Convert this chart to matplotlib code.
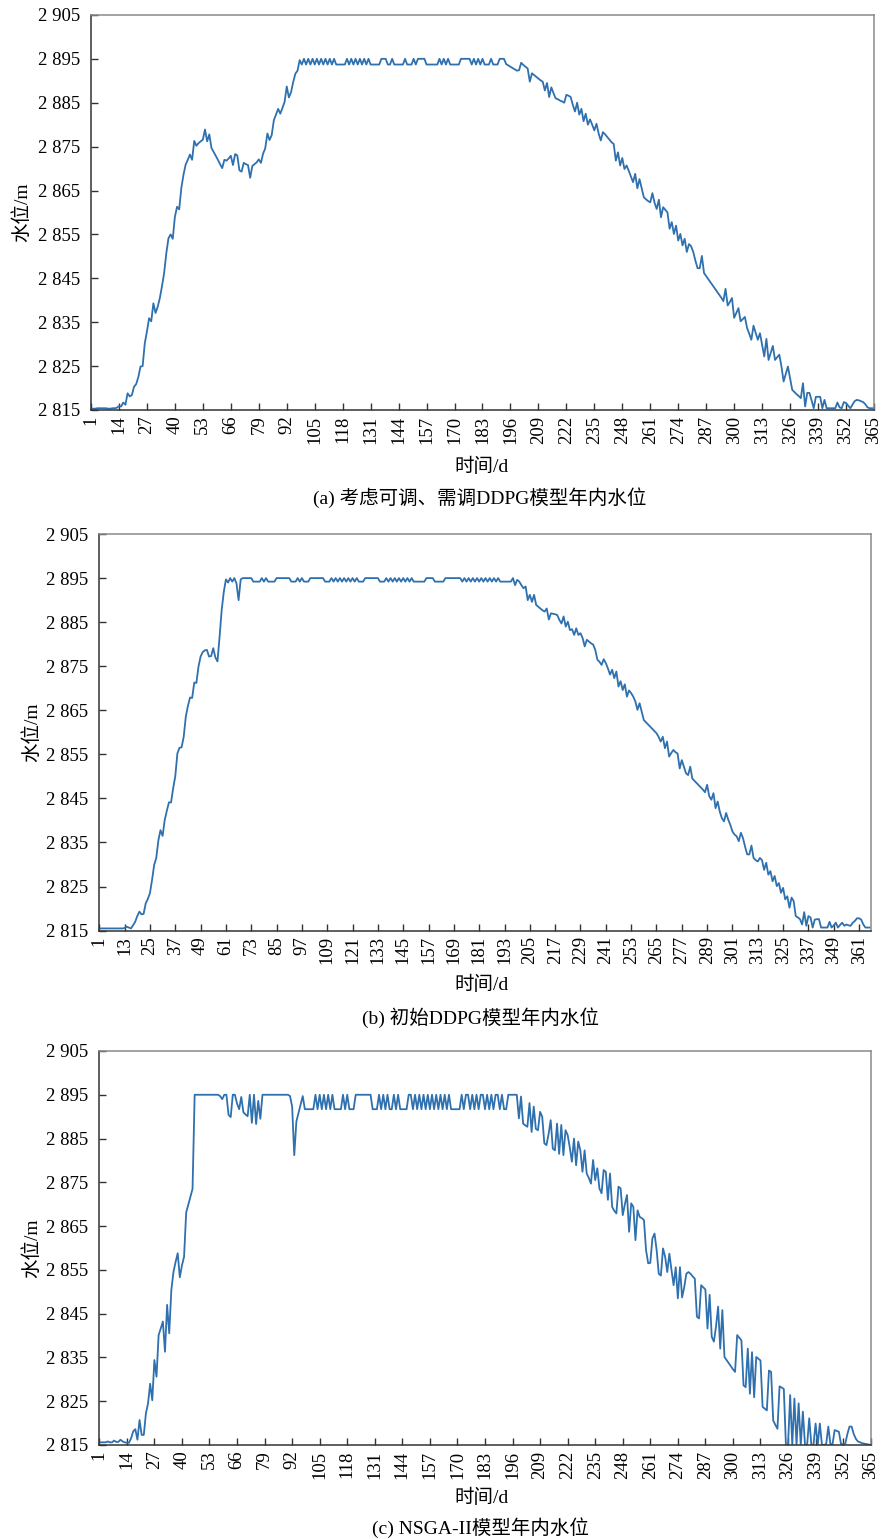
import matplotlib
matplotlib.use("Agg")
import matplotlib.pyplot as plt

# water level (m), one value per day
level_a = [
    2815.3, 2815.3, 2815.3, 2815.4, 2815.4, 2815.4, 2815.4, 2815.4, 2815.3, 2815.3,
    2815.4, 2815.4, 2815.5, 2815.9, 2815.8, 2816.7, 2816.2, 2818.8, 2818.1, 2818.4,
    2820.3, 2820.9, 2822.5, 2824.9, 2825.0, 2830.2, 2832.9, 2835.9, 2835.2, 2839.3,
    2837.1, 2838.5, 2840.5, 2843.2, 2846.2, 2850.7, 2854.1, 2855.0, 2854.0, 2859.0,
    2861.3, 2860.7, 2865.6, 2868.6, 2870.9, 2872.0, 2873.2, 2872.0, 2876.3, 2875.2,
    2875.8, 2876.2, 2876.6, 2878.9, 2876.2, 2877.8, 2874.7, 2873.8, 2872.9, 2872.0,
    2871.0, 2870.1, 2872.0, 2871.8, 2872.3, 2872.9, 2870.8, 2873.3, 2873.0, 2869.6,
    2869.3, 2871.3, 2871.0, 2870.8, 2867.9, 2870.6, 2871.0, 2871.4, 2872.1, 2871.3,
    2873.4, 2874.6, 2878.0, 2876.5, 2877.6, 2881.0, 2882.3, 2883.6, 2882.5, 2883.8,
    2885.2, 2888.7, 2886.2, 2887.4, 2889.7, 2891.6, 2892.3, 2894.7, 2893.7, 2895.0,
    2893.7, 2895.0, 2893.7, 2895.0, 2893.7, 2895.0, 2893.7, 2895.0, 2893.7, 2895.0,
    2893.7, 2895.0, 2893.7, 2895.0, 2893.7, 2893.7, 2893.7, 2893.7, 2893.7, 2895.0,
    2893.7, 2895.0, 2893.7, 2895.0, 2893.7, 2895.0, 2893.7, 2895.0, 2893.7, 2895.0,
    2893.7, 2893.7, 2893.7, 2893.7, 2893.7, 2895.0, 2895.0, 2895.0, 2893.7, 2893.7,
    2895.0, 2893.7, 2893.7, 2893.7, 2893.7, 2893.7, 2895.0, 2893.7, 2893.7, 2893.7,
    2895.0, 2893.7, 2895.0, 2895.0, 2895.0, 2895.0, 2893.7, 2893.7, 2893.7, 2893.7,
    2893.7, 2893.7, 2895.0, 2893.7, 2895.0, 2893.7, 2895.0, 2893.7, 2893.7, 2893.7,
    2893.7, 2893.7, 2895.0, 2895.0, 2895.0, 2895.0, 2895.0, 2893.7, 2895.0, 2893.7,
    2895.0, 2893.7, 2895.0, 2893.7, 2893.7, 2893.7, 2895.0, 2893.7, 2893.7, 2893.7,
    2895.0, 2895.0, 2895.0, 2893.8, 2893.5, 2893.2, 2892.9, 2892.6, 2892.3, 2892.4,
    2894.1, 2893.6, 2893.2, 2892.8, 2889.8, 2891.7, 2891.3, 2890.9, 2890.5, 2890.1,
    2889.8, 2887.8, 2889.5, 2886.3, 2888.5, 2887.2, 2886.0, 2885.8, 2885.5, 2885.3,
    2885.0, 2886.8, 2886.6, 2886.3, 2884.5, 2883.0, 2885.0, 2882.3, 2883.6, 2880.8,
    2882.5, 2880.0, 2881.2, 2880.0, 2878.7, 2880.2, 2878.0, 2876.4, 2878.3, 2877.8,
    2877.2, 2876.6, 2876.0, 2875.6, 2871.8, 2873.7, 2870.7, 2872.4, 2869.9, 2870.7,
    2869.5, 2868.2, 2866.9, 2868.8, 2865.5, 2867.6, 2865.5, 2863.5, 2863.0, 2862.6,
    2862.3, 2864.4, 2862.2, 2860.8, 2862.9, 2858.9, 2861.2, 2860.6, 2860.0, 2856.3,
    2857.8, 2855.1, 2857.0, 2853.6, 2855.1, 2852.5, 2854.0, 2851.0, 2852.8, 2852.3,
    2851.0, 2849.0, 2847.3, 2847.3, 2850.1, 2846.2, 2845.5, 2844.8, 2844.1, 2843.4,
    2842.7, 2842.0, 2841.3, 2840.6, 2839.8, 2842.6, 2838.8, 2839.6, 2840.5, 2836.0,
    2837.1, 2838.2, 2835.2, 2835.7, 2836.2, 2833.7, 2832.4, 2831.0, 2834.2, 2832.6,
    2831.0, 2832.5, 2829.9, 2827.2, 2831.2, 2826.4, 2828.0, 2829.6, 2826.4, 2827.0,
    2827.6, 2824.9, 2821.5, 2823.2, 2824.9, 2822.2, 2819.6, 2819.1, 2818.6, 2818.2,
    2817.7, 2821.1, 2815.8, 2818.9, 2818.9, 2817.2, 2815.4, 2818.0, 2818.0, 2818.0,
    2815.4, 2817.3, 2815.4, 2815.4, 2815.4, 2815.4, 2815.4, 2816.7, 2815.6, 2815.4,
    2816.8, 2816.6, 2816.0, 2815.4, 2816.2, 2817.0, 2817.3, 2817.2, 2817.0, 2816.8,
    2816.3, 2815.6, 2815.4, 2815.4, 2815.4,
]

level_b = [
    2815.5, 2815.5, 2815.5, 2815.5, 2815.5, 2815.5, 2815.5, 2815.5, 2815.5, 2815.5,
    2815.5, 2815.5, 2815.6, 2815.9, 2815.7, 2815.5, 2816.2, 2817.0, 2818.3, 2819.3,
    2818.7, 2818.8, 2821.2, 2822.2, 2823.5, 2826.5, 2829.9, 2831.5, 2835.5, 2837.8,
    2836.5, 2840.1, 2842.2, 2844.1, 2844.1, 2847.3, 2850.0, 2855.2, 2856.5, 2856.6,
    2859.0, 2863.6, 2866.0, 2867.9, 2867.8, 2871.3, 2871.2, 2874.9, 2877.2, 2878.2,
    2878.6, 2878.7, 2877.2, 2877.3, 2879.1, 2877.0, 2876.1, 2881.7, 2887.8, 2891.9,
    2894.7, 2894.0, 2895.0, 2894.2, 2895.0, 2893.8, 2890.0, 2894.7, 2895.0, 2895.0,
    2895.0, 2895.0, 2895.0, 2894.2, 2894.2, 2894.2, 2894.2, 2895.0, 2894.2, 2895.0,
    2894.2, 2894.2, 2894.2, 2894.2, 2895.0, 2895.0, 2895.0, 2895.0, 2895.0, 2895.0,
    2895.0, 2894.2, 2894.2, 2894.2, 2895.0, 2894.2, 2895.0, 2894.2, 2894.2, 2894.2,
    2895.0, 2895.0, 2895.0, 2895.0, 2895.0, 2895.0, 2895.0, 2894.2, 2894.2, 2894.2,
    2895.0, 2894.2, 2895.0, 2894.2, 2895.0, 2894.2, 2895.0, 2894.2, 2895.0, 2894.2,
    2895.0, 2894.2, 2895.0, 2894.2, 2894.2, 2894.2, 2895.0, 2895.0, 2895.0, 2895.0,
    2895.0, 2895.0, 2895.0, 2894.2, 2894.2, 2894.2, 2895.0, 2894.2, 2895.0, 2894.2,
    2895.0, 2894.2, 2895.0, 2894.2, 2895.0, 2894.2, 2895.0, 2894.2, 2895.0, 2894.2,
    2894.2, 2894.2, 2894.2, 2894.2, 2894.2, 2895.0, 2895.0, 2895.0, 2895.0, 2894.2,
    2894.2, 2894.2, 2894.2, 2894.2, 2895.0, 2895.0, 2895.0, 2895.0, 2895.0, 2895.0,
    2895.0, 2895.0, 2894.2, 2895.0, 2894.2, 2895.0, 2894.2, 2895.0, 2894.2, 2895.0,
    2894.2, 2895.0, 2894.2, 2895.0, 2894.2, 2895.0, 2894.2, 2895.0, 2894.2, 2895.0,
    2894.2, 2894.2, 2894.2, 2894.2, 2894.2, 2894.2, 2895.0, 2893.4, 2894.6, 2894.2,
    2893.4, 2892.7, 2893.1, 2890.0, 2891.2, 2889.6, 2891.2, 2888.9, 2888.5, 2888.1,
    2887.7, 2887.4, 2888.1, 2885.6, 2887.0, 2886.9, 2886.8, 2886.6, 2885.5, 2884.7,
    2886.3, 2884.0, 2885.1, 2883.2, 2883.4, 2882.1, 2883.6, 2882.1, 2882.5, 2881.4,
    2879.5, 2881.0, 2880.6, 2880.2, 2879.9, 2878.7, 2876.5, 2876.0, 2875.3, 2876.6,
    2875.7, 2874.5, 2873.1, 2874.2, 2872.3, 2873.8, 2870.4, 2871.6, 2869.6, 2870.9,
    2868.1, 2869.5, 2868.9, 2868.1, 2867.0, 2865.1, 2866.6, 2864.7, 2862.8, 2862.3,
    2861.8, 2861.3, 2860.8, 2860.3, 2859.8, 2859.0, 2857.9, 2859.0, 2856.4, 2857.9,
    2854.5, 2855.3, 2856.0, 2855.5, 2855.2, 2851.8, 2853.7, 2852.2, 2850.7, 2850.3,
    2852.2, 2849.5, 2849.0, 2848.5, 2848.0, 2847.5, 2847.0, 2846.4, 2848.1, 2845.5,
    2844.7, 2846.2, 2842.8, 2844.3, 2842.0, 2840.5, 2839.8, 2841.7, 2840.2, 2839.0,
    2837.5, 2836.8, 2836.4, 2835.3, 2837.2, 2836.0, 2834.0, 2832.3, 2832.3, 2834.3,
    2831.5, 2831.0, 2830.7, 2831.5, 2831.0, 2828.8, 2830.4, 2827.7, 2828.5, 2826.2,
    2827.4, 2825.1, 2825.8, 2823.6, 2824.7, 2822.1, 2822.8, 2820.2, 2822.5, 2821.7,
    2818.3, 2818.0, 2817.6, 2816.4, 2819.2, 2816.1, 2818.3, 2818.0, 2815.7, 2817.5,
    2817.6, 2817.6, 2815.7, 2815.7, 2815.7, 2815.7, 2817.0, 2815.7, 2816.2, 2816.8,
    2815.7, 2816.3, 2816.8, 2816.1, 2816.4, 2816.2, 2816.1, 2816.8, 2817.2, 2817.8,
    2817.8, 2817.5, 2816.4, 2815.7, 2815.7, 2815.7,
]

level_c = [
    2815.6, 2815.6, 2815.6, 2815.6, 2815.8, 2815.6, 2815.6, 2816.0, 2815.7, 2815.7,
    2816.2, 2815.8, 2815.6, 2815.5, 2815.5, 2816.5, 2818.1, 2818.6, 2816.2, 2820.7,
    2817.3, 2817.3, 2822.2, 2824.5, 2829.0, 2825.2, 2834.4, 2830.6, 2840.1, 2841.6,
    2843.2, 2836.3, 2847.0, 2840.5, 2850.4, 2854.5, 2856.8, 2858.8, 2853.3, 2856.0,
    2858.0, 2868.1, 2869.9, 2871.7, 2873.5, 2895.0, 2895.0, 2895.0, 2895.0, 2895.0,
    2895.0, 2895.0, 2895.0, 2895.0, 2895.0, 2895.0, 2895.0, 2894.7, 2894.0, 2895.0,
    2895.0, 2890.4, 2889.9, 2895.0, 2895.0, 2893.0, 2891.7, 2894.5, 2891.0, 2890.5,
    2890.1, 2895.0, 2888.6, 2895.0, 2888.3, 2893.6, 2889.5, 2895.0, 2895.0, 2895.0,
    2895.0, 2895.0, 2895.0, 2895.0, 2895.0, 2895.0, 2895.0, 2895.0, 2895.0, 2895.0,
    2894.7, 2892.3, 2881.2, 2888.9, 2890.8, 2892.8, 2894.7, 2891.7, 2891.7, 2891.7,
    2891.7, 2891.7, 2895.0, 2891.7, 2895.0, 2891.7, 2895.0, 2891.7, 2895.0, 2891.7,
    2895.0, 2891.7, 2891.7, 2891.7, 2891.7, 2895.0, 2891.7, 2895.0, 2891.7, 2891.7,
    2891.7, 2895.0, 2895.0, 2895.0, 2895.0, 2895.0, 2895.0, 2895.0, 2895.0, 2891.7,
    2891.7, 2891.7, 2895.0, 2891.7, 2895.0, 2891.7, 2895.0, 2891.7, 2891.7, 2895.0,
    2891.7, 2895.0, 2891.7, 2891.7, 2891.7, 2891.7, 2895.0, 2895.0, 2891.7, 2895.0,
    2891.7, 2895.0, 2891.7, 2895.0, 2891.7, 2895.0, 2891.7, 2895.0, 2891.7, 2895.0,
    2891.7, 2895.0, 2891.7, 2895.0, 2891.7, 2895.0, 2891.7, 2891.7, 2891.7, 2891.7,
    2891.7, 2895.0, 2891.7, 2895.0, 2895.0, 2891.7, 2895.0, 2891.7, 2895.0, 2891.7,
    2895.0, 2895.0, 2891.7, 2895.0, 2891.7, 2895.0, 2891.7, 2895.0, 2895.0, 2891.7,
    2895.0, 2891.7, 2891.7, 2895.0, 2895.0, 2895.0, 2895.0, 2895.0, 2889.6, 2894.6,
    2888.4, 2888.0, 2887.7, 2893.1, 2886.5, 2892.3, 2887.2, 2886.9, 2891.1, 2890.0,
    2883.9, 2883.5, 2886.0, 2889.2, 2882.7, 2882.3, 2888.4, 2881.5, 2888.1, 2881.2,
    2886.9, 2885.8, 2883.0, 2879.7, 2885.0, 2878.9, 2884.3, 2882.3, 2877.4, 2882.3,
    2877.0, 2876.0, 2874.7, 2880.1, 2875.5, 2878.2, 2873.6, 2872.5, 2877.8, 2877.4,
    2871.0, 2877.0, 2869.4, 2868.5, 2867.9, 2874.0, 2873.6, 2867.5, 2870.0, 2872.1,
    2863.7, 2870.2, 2869.4, 2861.8, 2868.6, 2867.1, 2866.8, 2866.4, 2859.5, 2856.5,
    2856.6, 2862.2, 2863.3, 2859.5, 2854.1, 2853.7, 2859.9, 2858.0, 2854.5, 2858.7,
    2855.0, 2851.5, 2855.6, 2848.5, 2855.6, 2848.7, 2851.0, 2854.1, 2854.5, 2854.1,
    2853.5, 2853.0, 2844.3, 2843.9, 2851.5, 2851.0, 2850.5, 2841.6, 2849.3, 2839.7,
    2838.6, 2842.0, 2846.6, 2837.0, 2845.8, 2835.1, 2834.4, 2833.7, 2833.0, 2832.3,
    2831.7, 2840.1, 2839.5, 2838.9, 2828.6, 2828.2, 2837.0, 2826.7, 2836.2, 2825.9,
    2835.1, 2834.7, 2834.3, 2823.7, 2823.3, 2822.9, 2832.0, 2831.7, 2820.6, 2819.6,
    2818.7, 2828.4, 2828.1, 2827.8, 2815.0, 2815.0, 2826.4, 2815.0, 2825.6, 2815.0,
    2824.5, 2815.0, 2822.6, 2815.0, 2815.0, 2821.1, 2815.0, 2815.0, 2819.9, 2815.0,
    2819.9, 2815.0, 2815.0, 2815.2, 2819.2, 2815.2, 2815.2, 2818.4, 2818.2, 2818.0,
    2815.2, 2815.2, 2815.3, 2817.5, 2819.2, 2819.2, 2817.5, 2816.4, 2815.8, 2815.6,
    2815.4, 2815.3, 2815.2, 2815.1, 2815.0,
]

ticks_a = list(range(1, 366, 13))
ticks_b = list(range(1, 366, 12))
ticks_c = list(range(1, 366, 13))
yticks = [2815, 2825, 2835, 2845, 2855, 2865, 2875, 2885, 2895, 2905]

captions = ["(a) 考虑可调、需调DDPG模型年内水位",
            "(b) 初始DDPG模型年内水位",
            "(c) NSGA-II模型年内水位"]

fam = ["Liberation Serif", "Noto Sans CJK SC", "DejaVu Sans"]
plt.rcParams["font.family"] = fam
blue = "#2f70ae"

fig = plt.figure(figsize=(8.81, 15.39), dpi=100)

panels = [
    # data, ticks, xmax, axes rect, xlabel y, caption y, ylabel x
    (level_a, ticks_a, 365, [0.1033, 0.7336, 0.8887, 0.2567], 0.6966, 0.6765, 0.025),
    (level_b, ticks_b, 366.5, [0.1127, 0.3953, 0.8756, 0.2577], 0.3600, 0.3385, 0.036),
    (level_c, ticks_c, 365, [0.1127, 0.0611, 0.8756, 0.2560], 0.0266, 0.0075, 0.036),
]

for i, (lev, xt, xmax, rect, xl_y, cap_y, yl_x) in enumerate(panels):
    ax = fig.add_axes(rect)
    days = list(range(1, len(lev) + 1))
    ax.plot(days, lev, color=blue, lw=1.3)
    ax.set_xlim(1, xmax)
    ax.set_ylim(2815, 2905)
    ax.set_xticks(xt)
    ax.set_xticklabels([str(t) for t in xt], rotation=90, fontsize=13.5)
    ax.set_yticks(yticks)
    ax.set_yticklabels([f"{v // 1000} {v % 1000:03d}" for v in yticks], fontsize=13.5)
    ax.tick_params(axis="both", direction="in", length=5, width=1, color="#333333")
    ax.tick_params(axis="y", pad=8)
    ax.tick_params(axis="x", pad=4)
    for s in ["left", "bottom"]:
        ax.spines[s].set_color("#333333")
        ax.spines[s].set_linewidth(1.1)
    for s in ["top", "right"]:
        ax.spines[s].set_color("#8a8a8a")
        ax.spines[s].set_linewidth(1.1)
    mid_y = rect[1] + rect[3] / 2
    fig.text(yl_x, mid_y, "水位/m", rotation=90, ha="center", va="center", fontsize=14)
    fig.text(0.547, xl_y, "时间/d", ha="center", va="center", fontsize=14)
    fig.text(0.545, cap_y, captions[i], ha="center", va="center", fontsize=14)

fig.savefig("out.png", dpi=100)
